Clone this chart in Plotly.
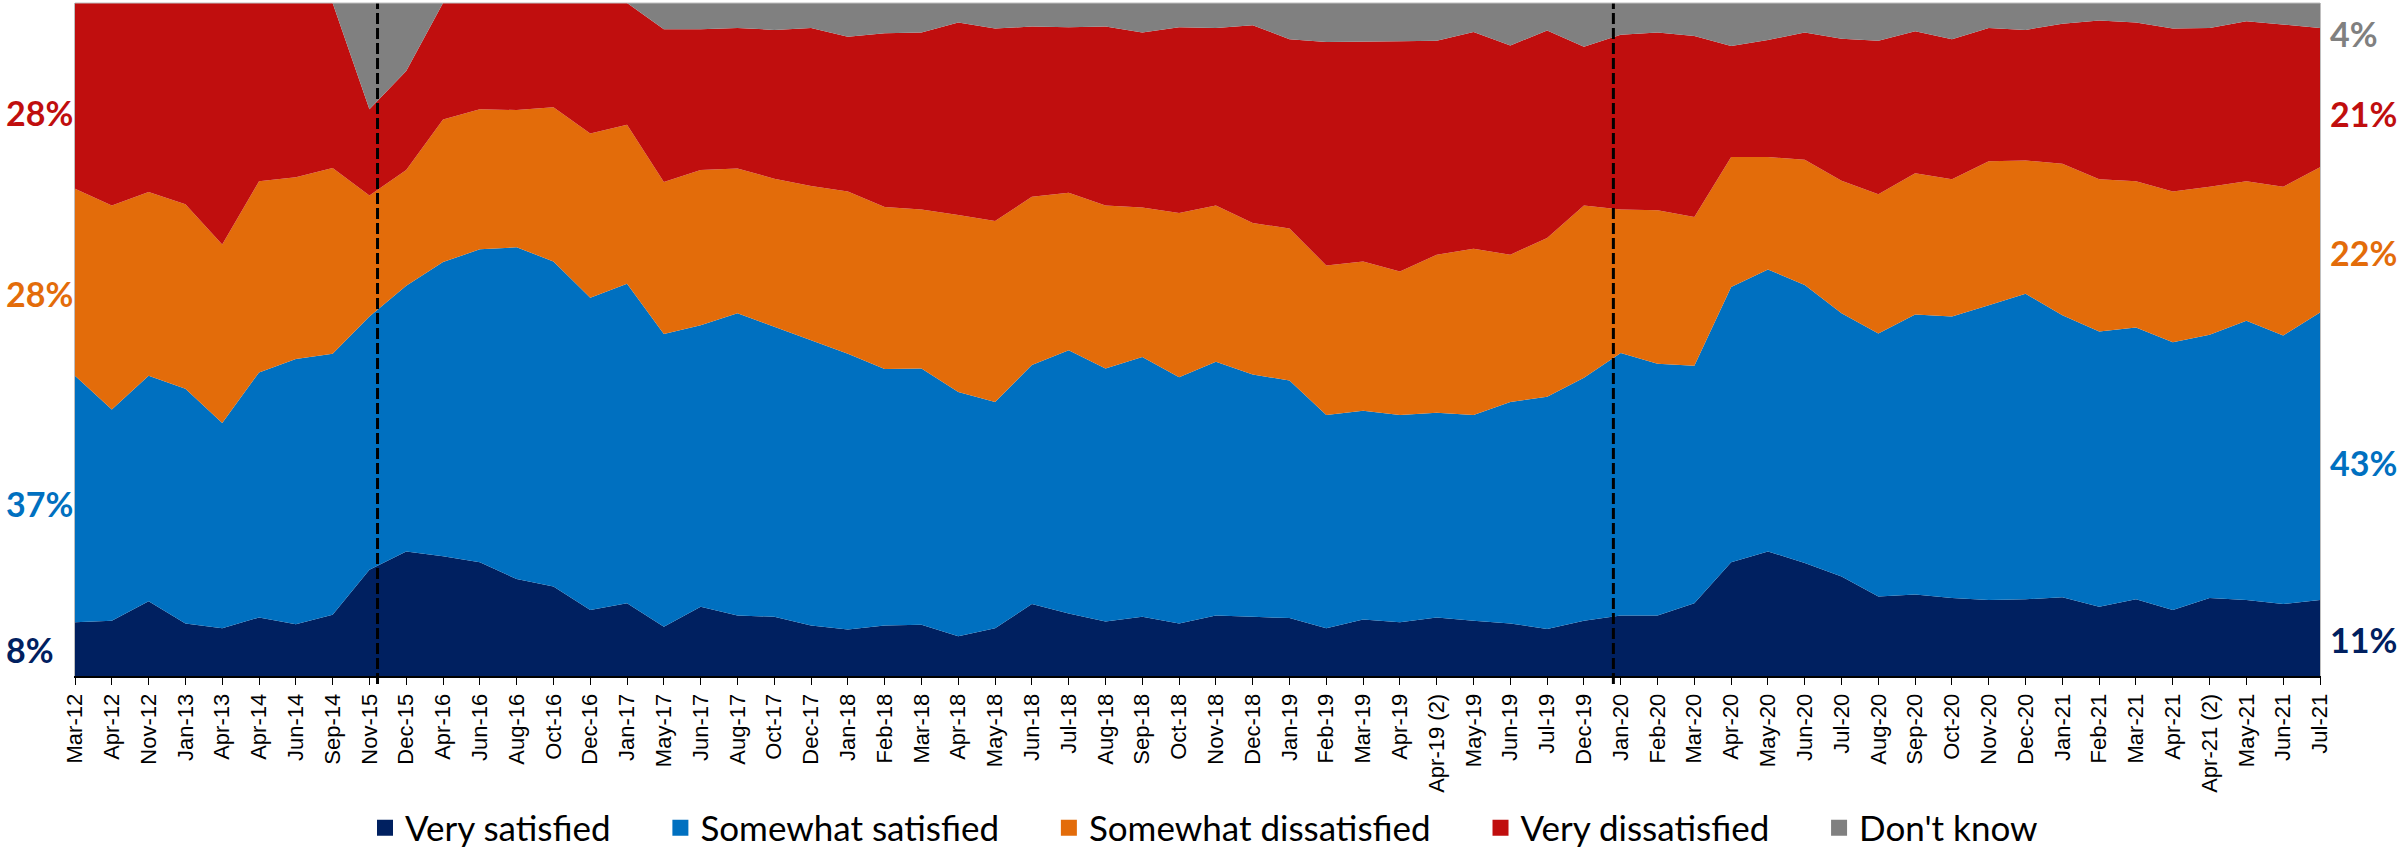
import plotly.graph_objects as go

categories = [
    "Mar-12", "Apr-12", "Nov-12", "Jan-13", "Apr-13", "Apr-14", "Jun-14", "Sep-14",
    "Nov-15", "Dec-15", "Apr-16", "Jun-16", "Aug-16", "Oct-16", "Dec-16", "Jan-17",
    "May-17", "Jun-17", "Aug-17", "Oct-17", "Dec-17", "Jan-18", "Feb-18", "Mar-18",
    "Apr-18", "May-18", "Jun-18", "Jul-18", "Aug-18", "Sep-18", "Oct-18", "Nov-18",
    "Dec-18", "Jan-19", "Feb-19", "Mar-19", "Apr-19", "Apr-19 (2)", "May-19", "Jun-19",
    "Jul-19", "Dec-19", "Jan-20", "Feb-20", "Mar-20", "Apr-20", "May-20", "Jun-20",
    "Jul-20", "Aug-20", "Sep-20", "Oct-20", "Nov-20", "Dec-20", "Jan-21", "Feb-21",
    "Mar-21", "Apr-21", "Apr-21 (2)", "May-21", "Jun-21", "Jul-21",
]

very_satisfied = [
    8.0, 8.2, 11.1, 7.8, 7.1, 8.7, 7.7, 9.1,
    15.8, 18.5, 17.8, 16.9, 14.4, 13.3, 9.8, 10.8,
    7.3, 10.3, 9.0, 8.8, 7.5, 6.9, 7.5, 7.6,
    5.9, 7.1, 10.7, 9.3, 8.1, 8.8, 7.8, 9.0,
    8.8, 8.6, 7.1, 8.4, 8.0, 8.7, 8.2, 7.8,
    7.0, 8.2, 9.0, 9.0, 10.8, 16.9, 18.5, 16.8,
    14.8, 11.8, 12.1, 11.6, 11.3, 11.4, 11.7, 10.3,
    11.4, 9.8, 11.6, 11.3, 10.7, 11.3,
]

somewhat_satisfied = [
    36.6, 31.4, 33.5, 34.9, 30.5, 36.4, 39.4, 38.8,
    37.6, 39.5, 43.7, 46.5, 49.3, 48.3, 46.4, 47.5,
    43.5, 41.8, 44.9, 43.1, 42.5, 41.0, 38.1, 38.1,
    36.3, 33.6, 35.5, 39.1, 37.6, 38.6, 36.6, 37.7,
    36.0, 35.3, 31.7, 31.0, 30.8, 30.4, 30.6, 32.9,
    34.5, 36.1, 39.0, 37.4, 35.3, 40.9, 41.9, 41.3,
    39.1, 39.1, 41.6, 41.8, 43.8, 45.4, 41.9, 40.9,
    40.4, 39.8, 39.1, 41.5, 39.9, 42.7,
]

somewhat_dissatisfied = [
    27.8, 30.3, 27.3, 27.4, 26.5, 28.4, 27.0, 27.6,
    18.0, 17.2, 21.2, 20.8, 20.4, 22.9, 24.4, 23.6,
    22.6, 23.1, 21.5, 22.0, 22.8, 24.1, 24.1, 23.6,
    26.3, 26.9, 25.0, 23.4, 24.2, 22.2, 24.4, 23.2,
    22.5, 22.6, 22.2, 22.2, 21.3, 23.5, 24.7, 21.9,
    23.6, 25.6, 21.3, 22.8, 22.1, 19.3, 16.7, 18.6,
    19.7, 20.7, 21.0, 20.4, 21.4, 19.8, 22.5, 22.6,
    21.7, 22.4, 22.0, 20.7, 22.1, 21.6,
]

very_dissatisfied = [
    27.6, 30.1, 28.1, 29.9, 35.9, 26.5, 25.9, 24.5,
    12.8, 14.7, 17.3, 15.8, 15.9, 15.5, 19.4, 18.1,
    22.7, 20.9, 20.9, 22.1, 23.5, 23.0, 25.8, 26.3,
    28.6, 28.6, 25.3, 24.6, 26.6, 26.0, 27.6, 26.4,
    29.4, 28.1, 33.2, 32.6, 34.2, 31.8, 32.2, 31.1,
    30.8, 23.6, 26.0, 26.4, 26.9, 16.5, 17.4, 18.9,
    21.1, 22.8, 21.1, 20.8, 19.8, 19.4, 20.8, 23.6,
    23.6, 24.2, 23.6, 23.8, 24.1, 20.7,
]

dont_know = [
    0.0, 0.0, 0.0, 0.0, 0.0, 0.0, 0.0, 0.0,
    15.8, 10.1, 0.0, 0.0, 0.0, 0.0, 0.0, 0.0,
    3.9, 3.9, 3.7, 4.0, 3.7, 5.0, 4.5, 4.4,
    2.9, 3.8, 3.5, 3.6, 3.5, 4.4, 3.6, 3.7,
    3.3, 5.4, 5.8, 5.8, 5.7, 5.6, 4.3, 6.3,
    4.1, 6.5, 4.7, 4.4, 4.9, 6.4, 5.5, 4.4,
    5.3, 5.6, 4.2, 5.4, 3.7, 4.0, 3.1, 2.6,
    2.9, 3.8, 3.7, 2.7, 3.2, 3.7,
]

series_names = ["Very satisfied", "Somewhat satisfied", "Somewhat dissatisfied",
                "Very dissatisfied", "Don't know"]
series_colors = ["#002060", "#0070C0", "#E36C0A", "#C00E0E", "#808080"]
series_values = [very_satisfied, somewhat_satisfied, somewhat_dissatisfied,
                 very_dissatisfied, dont_know]

# methodology breaks: (category before, fraction of the way to the next category)
series_breaks = [("Nov-15", 0.22), ("Dec-19", 0.8)]

x = list(range(len(categories)))

fig = go.Figure()
for name, vals, color in zip(series_names, series_values, series_colors):
    fig.add_trace(go.Scatter(
        x=x, y=vals, stackgroup="one", groupnorm="percent", mode="lines",
        line=dict(width=0, color=color), fillcolor=color, name=name,
        showlegend=False, hoverinfo="skip",
    ))
NBSP = "\u00a0"
for i, (name, color) in enumerate(zip(series_names, series_colors)):
    pad = NBSP * 5 if i < len(series_names) - 1 else ""
    fig.add_trace(go.Scatter(
        x=[None], y=[None], mode="markers", name=name + pad,
        marker=dict(symbol="square", size=20, color=color),
    ))

# end labels (placed near the middle of each band at the first / last survey)
label_font = "Lato"
for side, idx in (("left", 0), ("right", len(categories) - 1)):
    base = 0.0
    for name, vals, color in zip(series_names, series_values, series_colors):
        v = vals[idx]
        mid = base + v / 2.0
        base += v
        if v < 1:
            continue
        fig.add_annotation(
            xref="paper", x=0 if side == "left" else 1, yref="y", y=mid * 0.972,
            text=f"{int(v + 0.5)}%", showarrow=False,
            xanchor="left", yanchor="middle",
            xshift=-71 if side == "left" else 8,
            font=dict(family=label_font, size=34, color=color, weight="bold"),
        )

for cat, frac in series_breaks:
    xb = categories.index(cat) + frac
    fig.add_shape(type="line", xref="x", yref="paper", x0=xb, x1=xb, y0=-0.012, y1=1,
                  line=dict(color="black", width=3, dash="11px,4px"))

# axis shadow
fig.add_shape(type="line", xref="paper", yref="paper", x0=0, x1=1, y0=0, y1=0,
              ysizemode="pixel", yanchor=0,
              line=dict(color="#BFBFBF", width=3), layer="below")
fig.add_shape(type="line", xref="paper", yref="paper", x0=0, x1=1, y0=1, y1=1,
              line=dict(color="#BFBFBF", width=1))

fig.update_layout(
    width=2408, height=857,
    margin=dict(l=75, r=88, t=3, b=181, autoexpand=False),
    paper_bgcolor="white", plot_bgcolor="white",
    showlegend=True,
    legend=dict(orientation="h", x=0.5, xanchor="center", xref="container",
                y=(857 - 828) / 857, yanchor="middle", yref="container",
                font=dict(family="Lato", size=35, color="black"),
                traceorder="normal", itemwidth=30),
    xaxis=dict(
        range=[0, len(categories) - 1], tickmode="array", tickvals=x, ticktext=categories,
        tickangle=-90, tickfont=dict(family="Liberation Sans, Arial", size=22, color="black"),
        ticks="outside", ticklen=7, tickcolor="black", tickwidth=1, automargin=False,
        showline=True, linecolor="black", linewidth=2, showgrid=False, zeroline=False,
    ),
    yaxis=dict(
        range=[0, 100], showticklabels=False, showgrid=False, zeroline=False,
        showline=True, linecolor="#BFBFBF", linewidth=1, mirror=True, ticks="",
        automargin=False,
    ),
)

fig.write_html("out.html", config={"displayModeBar": False},
               post_script="document.body.style.margin='0';")
